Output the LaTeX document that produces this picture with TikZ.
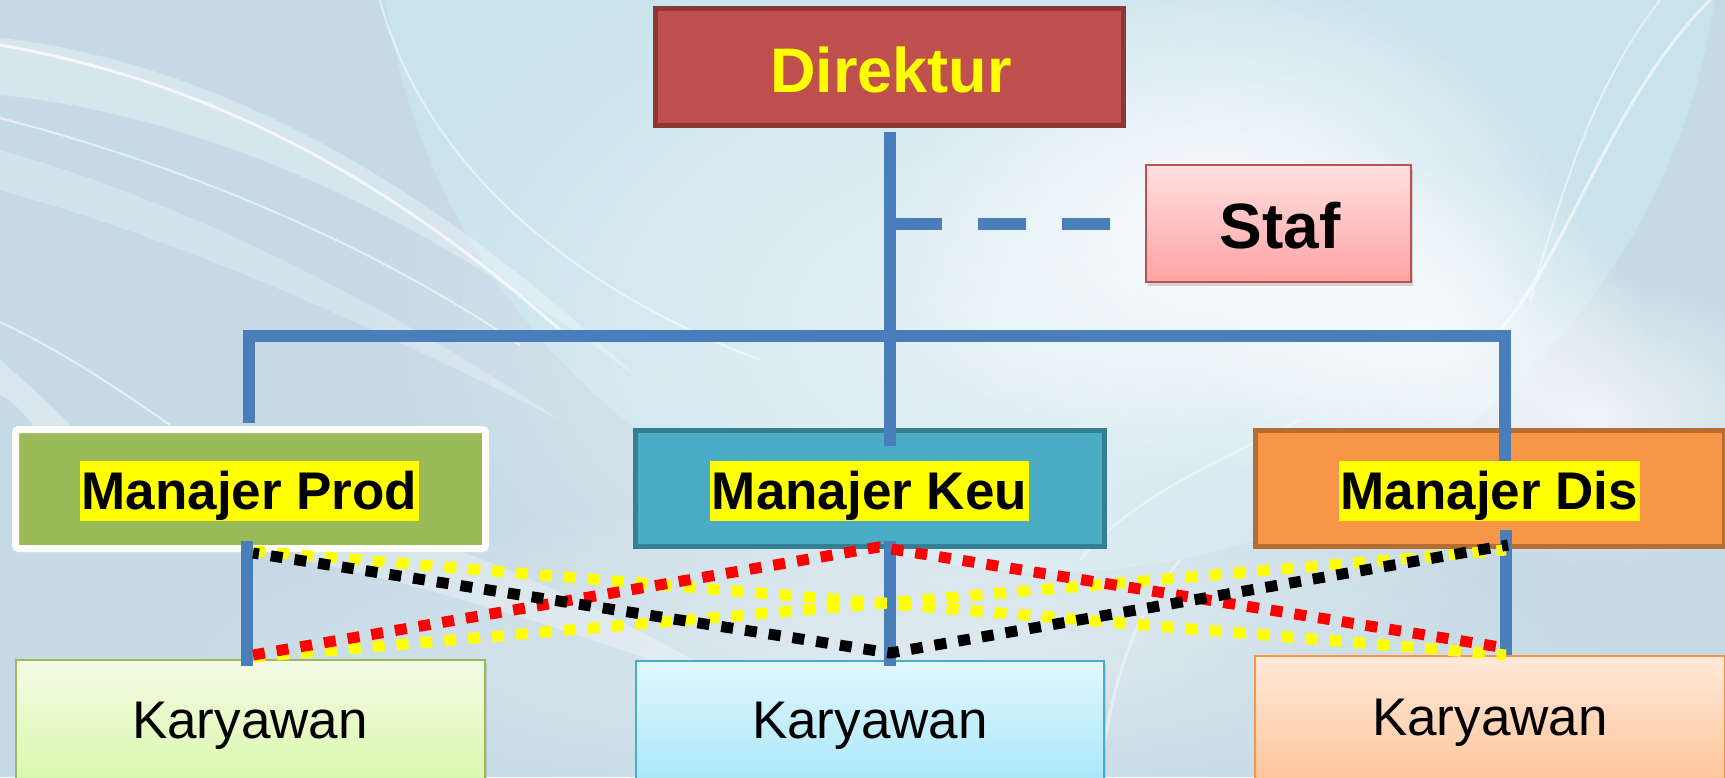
\documentclass[tikz,border=0pt]{standalone}
\usepackage{fontspec}
\setmainfont{Liberation Sans}
\usetikzlibrary{calc,fadings,shadows}

\tikzfading[name=softglow, inner color=transparent!0, outer color=transparent!100]

\definecolor{bgblue}{HTML}{C6DAE5}
\definecolor{bgcyan}{HTML}{CDEBF3}
\definecolor{orgblue}{HTML}{4A7EBB}
\definecolor{dirfill}{HTML}{C0504D}
\definecolor{dirline}{HTML}{8C3836}
\definecolor{prodfill}{HTML}{9BBB59}
\definecolor{keufill}{HTML}{4BACC6}
\definecolor{keuline}{HTML}{357F94}
\definecolor{disfill}{HTML}{F79646}
\definecolor{disline}{HTML}{B66D33}
\definecolor{staftop}{HTML}{FFE0E0}
\definecolor{stafbot}{HTML}{FFA3A3}
\definecolor{greentop}{HTML}{F2FBE5}
\definecolor{greenbot}{HTML}{DAF8A8}
\definecolor{cyantop}{HTML}{E2F7FD}
\definecolor{cyanbot}{HTML}{A6E6FA}
\definecolor{orangetop}{HTML}{FFE9DA}
\definecolor{orangebot}{HTML}{FFC396}
\definecolor{dotyellow}{HTML}{FFFF00}
\definecolor{dotred}{HTML}{FF0000}

\tikzset{
  org/.style={draw=orgblue, line width=12pt, line cap=butt},
  dotline/.style={line width=11pt, line cap=butt, dash pattern=on 12pt off 12pt},
  mgrbox/.style={rectangle, inner sep=0pt, minimum width=469pt, minimum height=116pt, line width=5pt},
  mgrtext/.style={font=\fontsize{53}{60}\selectfont\bfseries, fill=dotyellow, text=black,
    inner xsep=2pt, inner ysep=0pt, text height=48pt, text depth=12pt, anchor=base},
  empbox/.style={rectangle, inner sep=0pt, line width=2pt,
    drop shadow={shadow xshift=2pt, shadow yshift=-3pt, opacity=.25}},
  emptext/.style={font=\fontsize{53}{60}\selectfont, text=black, anchor=base, inner sep=0pt},
  glow/.style={fill=white, path fading=softglow},
}

\begin{document}
\begin{tikzpicture}[x=1pt,y=-1pt]
\useasboundingbox (0,0) rectangle (1725,777);
\begin{scope}
\clip (0,0) rectangle (1725,777);

% ---- background: pale sky with soft white swirls and cloud ----
\fill[bgblue] (0,0) rectangle (1725,777);
% large pale disc in the upper middle
\fill[bgcyan, opacity=.55] (1050,-100) circle (672);
\draw[white, opacity=.5, line width=2pt] (380,0) .. controls (420,150) and (550,280) .. (760,360);
\draw[white, opacity=.45, line width=26pt] (1050,-100) ++(200:440) arc (200:250:440);
\draw[white, opacity=.5, line width=6pt] (1050,-100) ++(195:395) arc (195:250:395);
\fill[glow, opacity=.55] (1000,330) ellipse (640 and 430);
% cloud on the right
\fill[glow, opacity=.9] (1230,230) ellipse (340 and 250);
\fill[glow, opacity=.8] (1420,330) ellipse (230 and 170);
\fill[glow, opacity=.7] (1600,420) ellipse (220 and 150);
\fill[glow, opacity=.35] (880,660) ellipse (760 and 170);
% left swirl bands
\fill[white, opacity=.30] (0,38) .. controls (200,60) and (420,170) .. (640,380)
  .. controls (420,210) and (200,115) .. (0,95) -- cycle;
\fill[white, opacity=.25] (0,150) .. controls (180,200) and (380,300) .. (560,420)
  .. controls (360,320) and (180,240) .. (0,190) -- cycle;
\draw[white, opacity=.7, line width=3pt] (0,45) .. controls (200,80) and (380,170) .. (560,330);
\draw[white, opacity=.55, line width=2pt] (0,118) .. controls (200,170) and (380,250) .. (520,345);
\draw[white, opacity=.55, line width=2pt] (0,322) .. controls (60,350) and (120,390) .. (170,425);
\fill[white, opacity=.35] (0,360) .. controls (40,395) and (80,430) .. (110,470)
  -- (60,470) .. controls (40,430) and (20,405) .. (0,395) -- cycle;
% thin streaks on the right
\draw[white, opacity=.6, line width=3pt] (1710,0) .. controls (1610,100) and (1570,250) .. (1500,330);
\draw[white, opacity=.5, line width=2pt] (1660,0) .. controls (1590,90) and (1560,200) .. (1530,300);
% streaks in the lower area
\draw[white, opacity=.45, line width=3pt] (1180,560) .. controls (1130,620) and (1110,690) .. (1100,777);
\draw[white, opacity=.4, line width=2pt] (1300,420) .. controls (1200,470) and (1130,500) .. (1080,560);
\fill[white, opacity=.3] (300,500) .. controls (450,540) and (600,600) .. (760,700)
  .. controls (600,640) and (450,590) .. (300,560) -- cycle;

% ---- boxes ----
\node[rectangle, inner sep=0pt, minimum width=468pt, minimum height=117pt, line width=5pt,
  fill=dirfill, draw=dirline] (dir) at (889.5,67) {};
\node[rectangle, inner sep=0pt, minimum width=265pt, minimum height=117pt, line width=2pt,
  draw=dirfill, top color=staftop, bottom color=stafbot,
  drop shadow={shadow xshift=2pt, shadow yshift=-4pt, opacity=.3}] (staf) at (1278.5,223.5) {};
\node[rectangle, inner sep=0pt, minimum width=470pt, minimum height=119pt, line width=7pt,
  fill=prodfill, draw=white, rounded corners=3pt,
  drop shadow={shadow xshift=2pt, shadow yshift=-3pt, opacity=.3}] (prod) at (250.5,489) {};
\node[mgrbox, fill=keufill, draw=keuline] (keu) at (870,488.5) {};
\node[mgrbox, fill=disfill, draw=disline] (dis) at (1490,488.5) {};

\node[empbox, minimum width=469pt, minimum height=129pt, draw=prodfill,
  top color=greentop, bottom color=greenbot] (emp1) at (250.5,724.5) {};
\node[empbox, minimum width=468pt, minimum height=128pt, draw=keufill,
  top color=cyantop, bottom color=cyanbot] (emp2) at (870,725) {};
\node[empbox, minimum width=470pt, minimum height=133pt, draw=disfill,
  top color=orangetop, bottom color=orangebot] (emp3) at (1490,722.5) {};

% ---- solid reporting lines ----
\coordinate (busL) at (249,336);
\coordinate (busR) at (1505,336);
\draw[org] ($(dir.south)+(0.5,4)$) -- ($(dir.south |- keu.north)+(0.5,18)$);
\draw[org, line join=miter] ($(prod.north)+(-1.5,-3)$) -- (busL) -- (busR)
  -- ($(busR |- dis.north)+(0,34)$);
\draw[org] ($(prod.south)+(-3.5,-11)$) -- ($(emp1.north)+(-3.5,7)$);
\draw[org] ($(keu.south)+(20,-8)$) -- ($(emp2.north)+(20,6)$);
\draw[org] ($(dis.south)+(16,-19)$) -- ($(emp3.north)+(16,0)$);

% ---- dashed staff line ----
\draw[org, dash pattern=on 48pt off 36pt] ($(dir.south |- staf.west)+(4.5,0)$) -- ($(staf.west)+(-35,0)$);

% ---- dotted cross links between managers and employees ----
\coordinate (pTy) at (253,551);
\coordinate (pTb) at (253,553);
\coordinate (pBy) at (253,657);
\coordinate (pBr) at (253,655);
\coordinate (kT) at (879,547);
\coordinate (kB) at (890,653);
\coordinate (dTy) at (1506,550);
\coordinate (dTb) at (1508,545);
\coordinate (dBy) at (1506,655);
\coordinate (dBr) at (1506,648);
\draw[dotline, draw=dotyellow] (pTy) -- (dBy);
\draw[dotline, draw=dotyellow] (pBy) -- (dTy);
\draw[dotline, draw=dotred] (pBr) -- (kT) -- (dBr);
\draw[dotline, draw=black, dash phase=6pt] (pTb) -- (kB) -- (dTb);

% ---- labels ----
\node[font=\fontsize{63}{70}\selectfont\bfseries, text=dotyellow, anchor=base, inner sep=0pt]
  (dirtext) at (891,92) {Direktur};
\node[font=\fontsize{64}{70}\selectfont\bfseries, text=black, anchor=base, inner sep=0pt]
  (staftext) at (1280,248) {Staf};
\node[mgrtext] (prodtext) at (249.5,509) {Manajer Prod};
\node[mgrtext] (keutext) at (869.5,509) {Manajer Keu};
\node[mgrtext] (distext) at (1489.5,509) {Manajer Dis};
\node[emptext] (emp1text) at (250,738) {Karyawan};
\node[emptext] (emp2text) at (870,738) {Karyawan};
\node[emptext] (emp3text) at (1490,735) {Karyawan};
\end{scope}
\end{tikzpicture}
\end{document}
